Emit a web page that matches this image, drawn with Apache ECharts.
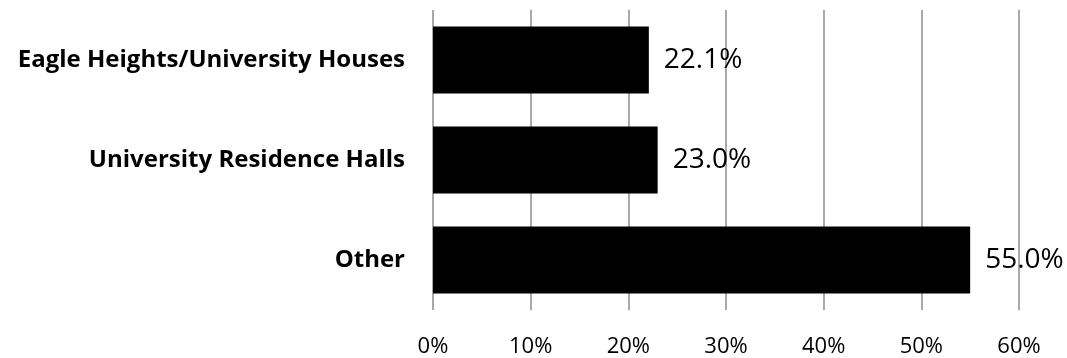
<!DOCTYPE html>
<html><head><meta charset="utf-8">
<script src="https://cdn.jsdelivr.net/npm/echarts@6/dist/echarts.min.js"></script>
<style>html,body{margin:0;padding:0;background:#fff}#c{width:1067px;height:358px}</style>
</head><body><div id="c"></div>
<script>
const categories = ['Other', 'University Residence Halls', 'Eagle Heights/University Houses'];
const values = [55.0, 23.0, 22.1];
const xTicks = [0, 10, 20, 30, 40, 50, 60];

const chart = echarts.init(document.getElementById('c'), null, {renderer: 'canvas'});
chart.setOption({
  animation: false,
  grid: {left: 433, right: 48, top: 10, height: 300},
  xAxis: {
    type: 'value', min: xTicks[0], max: xTicks[xTicks.length - 1], interval: 10,
    axisLine: {show: false}, axisTick: {show: false},
    splitLine: {show: true, lineStyle: {color: '#8c8c8c', width: 1.5}},
    axisLabel: {formatter: v => v + '%', color: '#000', fontFamily: 'Open Sans', fontSize: 22, margin: 26}
  },
  yAxis: {
    type: 'category', data: categories,
    axisLine: {show: false}, axisTick: {show: false},
    axisLabel: {color: '#000', fontFamily: 'Open Sans', fontWeight: 'bold', fontSize: 24, margin: 28}
  },
  series: [{
    type: 'bar', data: values, barWidth: 67,
    itemStyle: {color: '#000'},
    label: {show: true, position: 'right', distance: 15, formatter: p => p.value.toFixed(1) + '%',
      color: '#000', fontFamily: 'Open Sans', fontSize: 28}
  }]
});
</script></body></html>
